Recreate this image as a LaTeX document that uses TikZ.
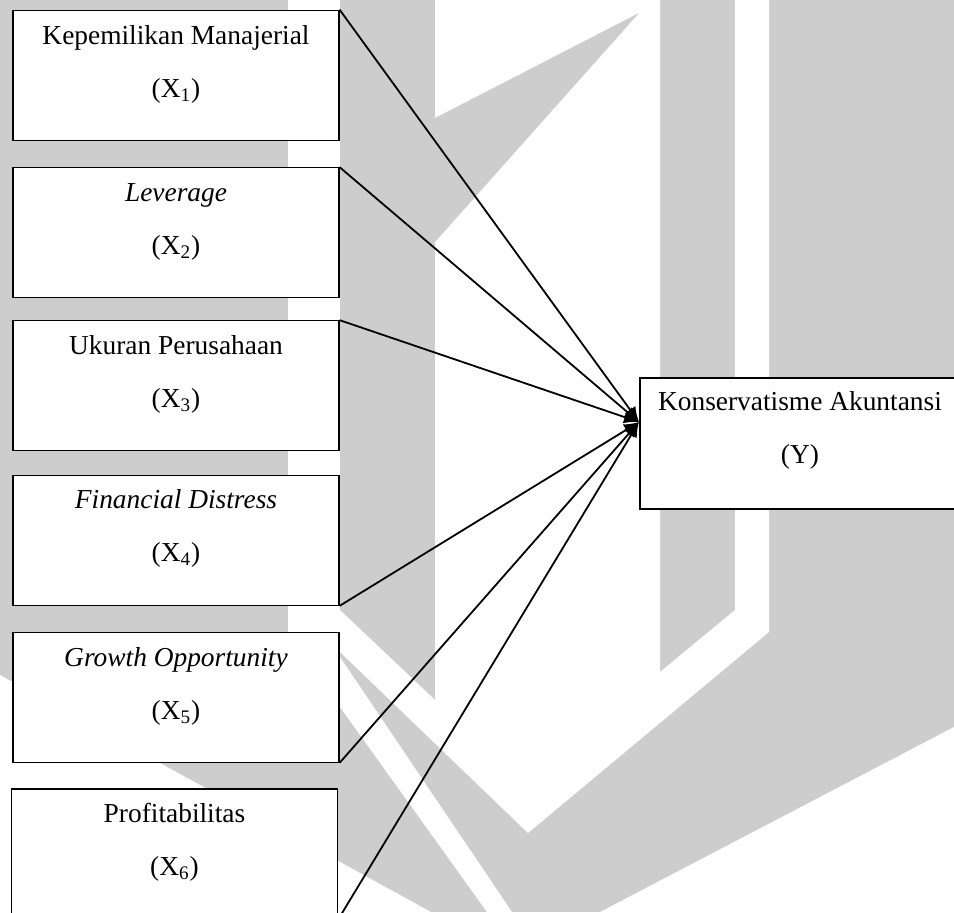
\documentclass[tikz,border=0pt]{standalone}
\usepackage{fontspec}
\setmainfont{Liberation Serif}
\usetikzlibrary{arrows.meta}
\definecolor{wmgrey}{RGB}{205,205,205}

\begin{document}
\begin{tikzpicture}[x=0.5pt,y=-0.5pt]
\tikzstyle{varbox}=[draw=black,line width=0.6pt,fill=white,minimum width=163pt,minimum height=65pt,inner sep=0pt]
\tikzstyle{vartext}=[anchor=base,align=center,inner sep=0pt,font=\fontsize{13.7pt}{26.5pt}\selectfont]
\tikzstyle{link}=[draw,line width=0.9pt,-{Latex[length=7.5pt,width=6.5pt]}]

% watermark behind the diagram
\clip (0,0) rectangle (954,912);
\fill[wmgrey] (0,0) rectangle (954,912);
\fill[white] (288,0) rectangle (340,700);
\fill[white] (435,0) -- (435,700) -- (340,610) -- (340,652) -- (528,833) -- (769,632)
  -- (769,0) -- (735,0) -- (735,610) -- (660,672) -- (660,0) -- cycle;
\fill[white] (340,657) -- (512,912) -- (487,912) -- (340,707) -- cycle;
\fill[white] (0,675) -- (431,912) -- (0,912) -- cycle;
\fill[white] (954,727) -- (600,912) -- (954,912) -- cycle;
\fill[wmgrey] (435,118) -- (639,13) -- (435,242) -- cycle;

% variables
\node[varbox] (x1) at (176,75.25) {};
\node[varbox] (x2) at (176,232.75) {};
\node[varbox] (x3) at (176,385.75) {};
\node[varbox] (x4) at (176,540.25) {};
\node[varbox] (x5) at (176,697.25) {};
\node[varbox] (x6) at (174.5,854) {};
\node[varbox,minimum width=160pt,minimum height=65.5pt] (y) at (800,443.5) {};

% labels (anchored on the second line)
\node[vartext] (t1) at (176,97) {Kepemilikan Manajerial\\(X\textsubscript{1})};
\node[vartext] (t2) at (176,254) {\textit{Leverage}\\(X\textsubscript{2})};
\node[vartext] (t3) at (176,407) {Ukuran Perusahaan\\(X\textsubscript{3})};
\node[vartext] (t4) at (176,561.5) {\textit{Financial Distress}\\(X\textsubscript{4})};
\node[vartext] (t5) at (176,719.5) {\textit{Growth Opportunity}\\(X\textsubscript{5})};
\node[vartext] (t6) at (174.5,875.5) {Profitabilitas\\(X\textsubscript{6})};
\node[vartext] (ty) at (800,463) {Konservatisme Akuntansi\\(Y)};

% arrows
\coordinate (hub) at (639,422);
\draw[link] (x1.north east) -- (hub);
\draw[link] (x2.north east) -- (hub);
\draw[link] (x3.north east) -- (hub);
\draw[link] (x4.south east) -- (hub);
\draw[link] (x5.south east) -- (hub);
\draw[link] (x6.south east) -- (hub);
\end{tikzpicture}
\end{document}
